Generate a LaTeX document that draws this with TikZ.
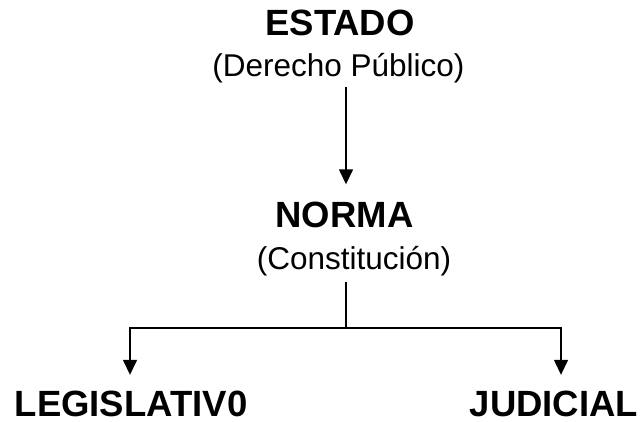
\documentclass[tikz,border=0pt]{standalone}
\usepackage{fontspec}
\setmainfont{Liberation Sans}
\usetikzlibrary{arrows.meta,calc}
\tikzset{
  titulo/.style={font=\fontsize{36.5}{40}\selectfont\bfseries, inner sep=0pt, anchor=base},
  sub/.style={font=\fontsize{31.5}{36}\selectfont, inner sep=0pt, anchor=base},
  linea/.style={line width=1.4pt},
  flecha/.style={linea, -{Triangle[length=15pt,width=14pt]}}
}
\begin{document}
\begin{tikzpicture}[x=1pt,y=1pt]
\useasboundingbox (0,0) rectangle (644,-422);
\node[titulo] at (340,-36) (estado) {ESTADO};
\node[sub] at (338.5,-77) (derecho) {(Derecho Público)};
\node[titulo] at (344.5,-227) (norma) {NORMA};
\node[sub] at (354,-269) (const) {(Constitución)};
\node[titulo] at (131,-416.5) (leg) {LEGISLATIV0};
\node[titulo] at (554,-416.5) (jud) {JUDICIAL};
\coordinate (rama) at (346,-328);
\draw[flecha, shorten <=3pt, shorten >=17pt] (derecho.south -| rama) -- (norma.north -| rama);
\draw[linea, shorten <=6pt] (const.south -| rama) -- (rama);
\draw[flecha] (rama) -| ([xshift=-1pt,yshift=16pt]leg.north);
\draw[flecha] (rama) -| ([xshift=7pt,yshift=16pt]jud.north);
\end{tikzpicture}
\end{document}
